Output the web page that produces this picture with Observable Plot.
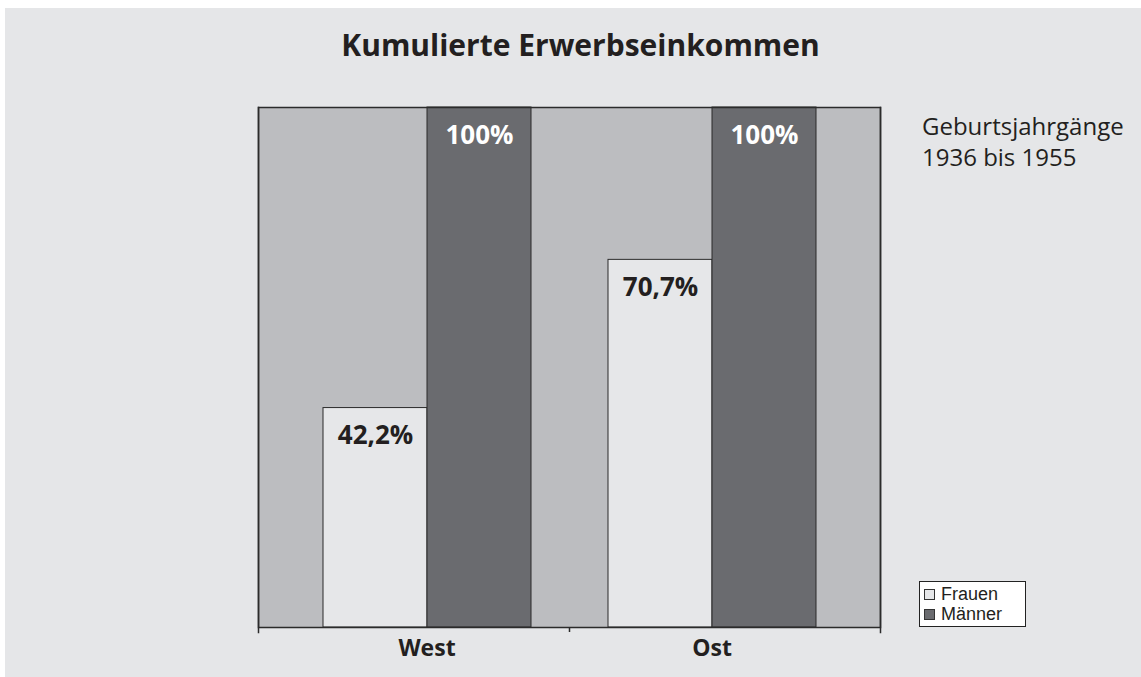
<!DOCTYPE html>
<html>
<head>
<meta charset="utf-8">
<script src="https://cdn.jsdelivr.net/npm/d3@7"></script>
<script src="https://cdn.jsdelivr.net/npm/@observablehq/plot@0.6"></script>
<style>
  html, body { margin: 0; padding: 0; background: #ffffff; }
  body { width: 1141px; height: 677px; position: relative; overflow: hidden; font-family: "Open Sans", sans-serif; color: #231f20; }
  #panel { position: absolute; left: 5px; top: 8px; right: 0; bottom: 0; background: #e5e6e8; }
  #title { position: absolute; left: 80px; width: 1001px; top: 30px; text-align: center; font-size: 30px; font-weight: 700; line-height: 30px; }
  #subtitle { position: absolute; left: 922px; top: 110px; font-size: 24px; line-height: 31px; font-weight: 400; }
  #chart { position: absolute; left: 0; top: 0; }
  #legend { position: absolute; left: 919px; top: 581px; width: 105px; height: 44px; background: #fff; border: 1px solid #222; font-family: "Liberation Sans", Arial, sans-serif; font-size: 18px; box-sizing: content-box; }
  .lrow { display: flex; align-items: center; height: 20px; margin-left: 4px; line-height: 20px; }
  .lrow:first-child { margin-top: 2px; }
  .sw { width: 9px; height: 9px; border: 1px solid #333; margin-right: 6px; }
</style>
</head>
<body>
<div id="panel"></div>
<div id="title"></div>
<div id="subtitle"></div>
<div id="chart"></div>
<div id="legend"></div>
<script>
// ---- data ----
const titleText = "Kumulierte Erwerbseinkommen";
const subtitleLines = ["Geburtsjahrgänge", "1936 bis 1955"];
const regions = ["West", "Ost"];
const groups = ["Frauen", "Männer"];
const frauenValues = [42.2, 70.7];
const maennerValues = [100, 100];
const groupColors = ["#e6e7e9", "#6a6b6f"];

// ---- build table ----
const rows = [];
regions.forEach((r, i) => {
  rows.push({region: r, group: groups[0], value: frauenValues[i]});
  rows.push({region: r, group: groups[1], value: maennerValues[i]});
});
const fmt = v => (Number.isInteger(v) ? String(v) : String(v).replace(".", ",")) + "%";

document.getElementById("title").textContent = titleText;
document.getElementById("subtitle").innerHTML = subtitleLines.map(s => `<div>${s}</div>`).join("");

const ink = "#2b2b2b";
const ext = -26; // plot area extends beyond the outer category bands
const plot = Plot.plot({
  width: 1141,
  height: 677,
  marginTop: 107,
  marginBottom: 50,
  marginLeft: 258,
  marginRight: 261,
  style: {background: "transparent", fontFamily: "Open Sans, sans-serif", color: "#231f20", overflow: "visible"},
  fx: {domain: regions, paddingInner: 0, paddingOuter: 0.0912, label: null},
  x: {domain: groups, paddingInner: 0, paddingOuter: 0.37, axis: null},
  y: {domain: [0, 100], axis: null},
  color: {domain: groups, range: groupColors},
  marks: [
    Plot.frame({facet: "super", fill: "#bcbdc0", stroke: "none", insetLeft: ext, insetRight: ext}),
    Plot.barY(rows, {fx: "region", x: "group", y: "value", fill: "group", stroke: ink, strokeWidth: 1}),
    Plot.text(rows.filter(d => d.group === groups[0]), {fx: "region", x: "group", y: "value", text: d => fmt(d.value), dy: 28, fill: "#231f20", fontSize: 26, fontWeight: "bold", lineAnchor: "middle"}),
    Plot.text(rows.filter(d => d.group === groups[1]), {fx: "region", x: "group", y: "value", text: d => fmt(d.value), dy: 28, fill: "#ffffff", fontSize: 26, fontWeight: "bold", lineAnchor: "middle"}),
    Plot.frame({facet: "super", stroke: ink, strokeWidth: 1.5, insetLeft: ext, insetRight: ext}),
    Plot.frame({facet: "super", anchor: "left", insetLeft: ext, insetBottom: -5, stroke: ink, strokeWidth: 1.5}),
    Plot.frame({facet: "super", anchor: "right", insetRight: ext, insetBottom: -5, stroke: ink, strokeWidth: 1.5}),
    Plot.axisFx({anchor: "bottom", ticks: [regions[0]], text: null, tickSize: 5, dx: 142.5, stroke: ink, strokeWidth: 1.5}),
    Plot.axisFx({anchor: "bottom", tickSize: 0, tickPadding: 12, fontSize: 23, fontWeight: "bold", fill: "#231f20", label: null})
  ]
});
document.getElementById("chart").appendChild(plot);

// ---- legend ----
const legend = document.getElementById("legend");
groups.forEach((g, i) => {
  const row = document.createElement("div");
  row.className = "lrow";
  row.innerHTML = `<span class="sw" style="background:${groupColors[i]}"></span><span>${g}</span>`;
  legend.appendChild(row);
});
</script>
</body>
</html>
